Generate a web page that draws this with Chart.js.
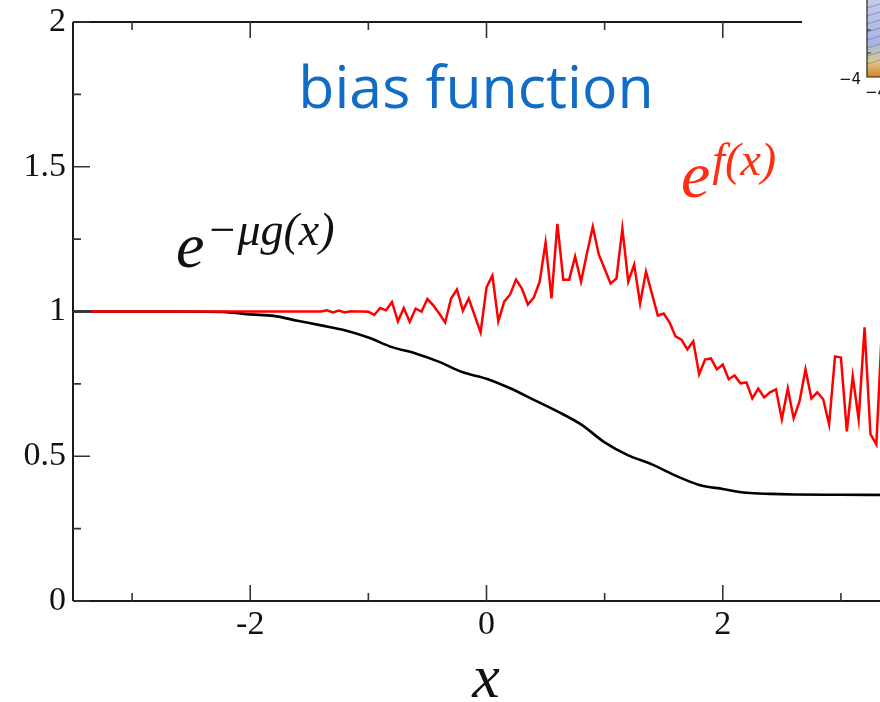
<!DOCTYPE html>
<html>
<head>
<meta charset="utf-8">
<title>bias function</title>
<script src="https://cdn.jsdelivr.net/npm/chart.js@4.4.0/dist/chart.umd.min.js"></script>
<style>
html, body { margin: 0; padding: 0; background: #fff; overflow: hidden; }
#wrap { width: 880px; height: 702px; overflow: hidden; position: relative; }
canvas { display: block; }
</style>
</head>
<body>
<div id="wrap"><canvas id="biasChart" width="920" height="702"></canvas></div>
<script>
// e^{f(x)}: sampled on a 0.05 grid starting at x = -3.35
const fStart = -3.35;
const fStep = 0.05;
const fValues = [
    1, 1, 1, 1, 1, 1, 1, 1, 1, 1,
    1, 1, 1, 1, 1, 1, 1, 1, 1, 1,
    1, 1, 1, 1, 1, 1, 1, 1, 1, 1,
    1, 1, 1, 1, 1, 1, 1, 1, 1, 1,
    1.004, 0.997, 1.003, 0.997, 1.001, 1.0, 1.0, 0.999, 0.988, 1.012,
    1.004, 1.033, 0.966, 1.012, 0.964, 1.01, 1.0, 1.043, 1.021, 0.993,
    0.962, 1.045, 1.076, 1.003, 1.045, 0.986, 0.928,
    1.083, 1.124, 0.966, 1.034, 1.059, 1.110, 1.079, 1.024, 1.048, 1.103,
    1.238, 1.045, 1.303, 1.110, 1.110, 1.190, 1.103, 1.2, 1.293, 1.197,
    1.148, 1.097, 1.114, 1.286, 1.103, 1.162, 1.028, 1.138, 1.062, 0.986,
    0.993, 0.962, 0.914, 0.903, 0.869, 0.897, 0.783, 0.834, 0.838, 0.8,
    0.817, 0.766, 0.779, 0.752, 0.755, 0.7, 0.734, 0.703, 0.721, 0.731,
    0.628, 0.734, 0.631, 0.690, 0.8, 0.7, 0.721, 0.697, 0.610, 0.845,
    0.841, 0.586, 0.776, 0.628, 0.945, 0.576, 0.541, 0.97, 0.8
];

// e^{-mu g(x)}: smooth curve
const gX = [-3.5, -2.6, -2.2, -2.0, -1.8, -1.6, -1.4, -1.2, -1.0, -0.8, -0.6, -0.4, -0.2, 0,
    0.2, 0.4, 0.6, 0.8, 1.0, 1.2, 1.4, 1.6, 1.8, 2.0, 2.2, 2.4, 2.6, 3.0, 3.5];
const gY = [1.0, 1.0, 0.998, 0.99, 0.985, 0.968, 0.952, 0.935, 0.91, 0.877, 0.855, 0.826, 0.79, 0.768,
    0.735, 0.695, 0.655, 0.61, 0.548, 0.503, 0.472, 0.433, 0.401, 0.387, 0.374, 0.370, 0.368, 0.367, 0.366];

const xMajor = [-2, 0, 2];
const xMinor = [-3, -1, 1, 3];
const yMajor = [0, 0.5, 1, 1.5, 2];
const yMinor = [0.25, 0.75, 1.25, 1.75];

const fPoints = fValues.map((v, i) => ({ x: +(fStart + i * fStep).toFixed(2), y: v }));
const gPoints = gX.map((x, i) => ({ x: x, y: gY[i] }));

const SERIF = '"Liberation Serif", "Times New Roman", serif';
const TOP_END = 802; // top frame stops where the thumbnail starts

// frame with inward ticks
const frame = {
    id: 'frame',
    afterDatasetsDraw(chart) {
        const { ctx, chartArea: a, scales } = chart;
        const xs = scales.x, ys = scales.y;
        ctx.save();
        ctx.strokeStyle = '#1a1a1a';
        ctx.lineWidth = 2;
        ctx.beginPath();
        ctx.moveTo(a.left, a.top); ctx.lineTo(TOP_END, a.top);
        ctx.moveTo(a.left, a.top); ctx.lineTo(a.left, a.bottom);
        ctx.moveTo(a.left, a.bottom); ctx.lineTo(a.right, a.bottom);
        ctx.stroke();

        ctx.lineWidth = 1.6;
        ctx.strokeStyle = '#333';
        ctx.beginPath();
        yMajor.forEach(v => { const p = ys.getPixelForValue(v); ctx.moveTo(a.left, p); ctx.lineTo(a.left + 17, p); });
        yMinor.forEach(v => { const p = ys.getPixelForValue(v); ctx.moveTo(a.left, p); ctx.lineTo(a.left + 8, p); });
        xMajor.forEach(v => {
            const p = xs.getPixelForValue(v);
            ctx.moveTo(p, a.bottom); ctx.lineTo(p, a.bottom - 16);
            if (p < TOP_END) { ctx.moveTo(p, a.top); ctx.lineTo(p, a.top + 16); }
        });
        xMinor.forEach(v => {
            const p = xs.getPixelForValue(v);
            ctx.moveTo(p, a.bottom); ctx.lineTo(p, a.bottom - 8);
            if (p < TOP_END) { ctx.moveTo(p, a.top); ctx.lineTo(p, a.top + 8); }
        });
        ctx.stroke();
        ctx.restore();
    }
};

// title, curve labels and axis name
const labels = {
    id: 'labels',
    afterDraw(chart) {
        const ctx = chart.ctx;
        ctx.save();
        ctx.textBaseline = 'alphabetic';

        ctx.fillStyle = '#106cc4';
        ctx.font = '59px "Open Sans", "Noto Sans", sans-serif';
        ctx.textAlign = 'center';
        ctx.fillText('bias function', 476, 108);

        ctx.textAlign = 'left';
        const expr = (x, base, color, sup, size) => {
            ctx.fillStyle = color;
            ctx.font = 'italic ' + size + 'px ' + SERIF;
            ctx.fillText('e', x, base);
            const w = ctx.measureText('e').width;
            ctx.font = 'italic 46px ' + SERIF;
            ctx.fillText(sup, x + w + 2, base - 22);
        };
        expr(176, 267, '#111', '\u2212\u03bcg(x)', 64);
        expr(681, 197, '#ff2d12', 'f(x)', 66);

        ctx.fillStyle = '#111';
        ctx.font = 'italic 62px ' + SERIF;
        ctx.textAlign = 'center';
        ctx.fillText('x', 486, 697);
        ctx.restore();
    }
};

// small colour-map thumbnail in the upper right corner
const thumbnail = {
    id: 'thumbnail',
    afterDraw(chart) {
        const ctx = chart.ctx;
        ctx.save();
        const grad = ctx.createLinearGradient(0, 0, 0, 77);
        grad.addColorStop(0, '#c6c9e6');
        grad.addColorStop(0.55, '#a8b5e4');
        grad.addColorStop(0.8, '#d9c98a');
        grad.addColorStop(1, '#d9822a');
        ctx.fillStyle = grad;
        ctx.fillRect(867, 0, 60, 77);
        ctx.strokeStyle = 'rgba(70,90,170,0.6)';
        ctx.lineWidth = 0.8;
        ctx.beginPath();
        for (let i = 0; i < 8; i++) {
            ctx.moveTo(867, 8 + i * 8);
            ctx.lineTo(880, 4 + i * 8);
        }
        ctx.stroke();
        ctx.strokeStyle = '#222';
        ctx.lineWidth = 1.2;
        ctx.beginPath();
        ctx.moveTo(867, 0); ctx.lineTo(867, 77); ctx.lineTo(900, 77);
        ctx.moveTo(867, 30); ctx.lineTo(871, 30);
        ctx.moveTo(867, 53); ctx.lineTo(871, 53);
        ctx.stroke();
        ctx.fillStyle = '#111';
        ctx.font = '15px "DejaVu Sans", sans-serif';
        ctx.textAlign = 'right';
        ctx.fillText('\u22124', 861, 84);
        ctx.textAlign = 'left';
        ctx.fillText('\u22124', 865, 97);
        ctx.restore();
    }
};

// keep the plot box fixed; labels may overhang it
const noOverhang = s => { s.paddingTop = 0; s.paddingBottom = 0; s.paddingLeft = 0; s.paddingRight = 0; };

new Chart(document.getElementById('biasChart').getContext('2d'), {
    type: 'line',
    data: {
        datasets: [
            {
                label: 'e^f(x)',
                data: fPoints,
                borderColor: '#ff0000',
                borderWidth: 2.5,
                pointRadius: 0,
                tension: 0,
                fill: false
            },
            {
                label: 'e^-mu g(x)',
                data: gPoints,
                borderColor: '#000000',
                borderWidth: 2.6,
                pointRadius: 0,
                cubicInterpolationMode: 'monotone',
                fill: false
            }
        ]
    },
    options: {
        responsive: false,
        animation: false,
        devicePixelRatio: 1,
        layout: { padding: { top: 22, right: 20, left: 0, bottom: 0 } },
        plugins: { legend: { display: false }, tooltip: { enabled: false } },
        scales: {
            x: {
                type: 'linear',
                min: -3.5,
                max: 3.5,
                grid: { display: false, drawTicks: false },
                border: { display: false },
                ticks: {
                    stepSize: 2,
                    includeBounds: false,
                    padding: 4,
                    color: '#111',
                    font: { family: SERIF, size: 34 },
                    callback: v => xMajor.includes(v) ? String(v) : ''
                },
                afterFit: s => { noOverhang(s); s.height = 101; }
            },
            y: {
                type: 'linear',
                min: 0,
                max: 2,
                grid: { display: false, drawTicks: false },
                border: { display: false },
                ticks: {
                    stepSize: 0.5,
                    padding: 7,
                    color: '#111',
                    font: { family: SERIF, size: 34 },
                    callback: v => yMajor.includes(v) ? String(v) : ''
                },
                afterFit: s => { noOverhang(s); s.width = 73; }
            }
        }
    },
    plugins: [frame, labels, thumbnail]
});
</script>
</body>
</html>
